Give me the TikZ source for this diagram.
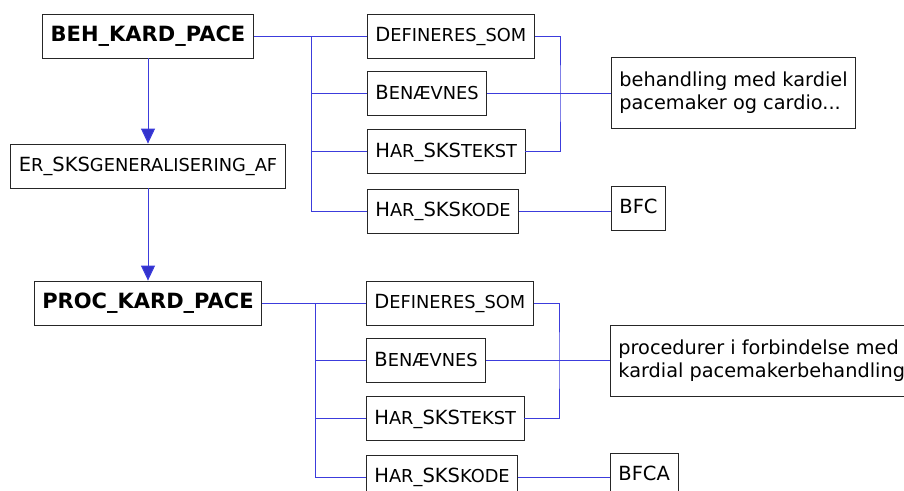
\documentclass[tikz,border=0pt]{standalone}
\usepackage{fontspec}
\setmainfont{DejaVu Sans}
\usetikzlibrary{
    positioning,
    arrows.meta
}

\definecolor{linkblue}{RGB}{60,60,220}
\definecolor{headblue}{RGB}{51,51,204}

\newcommand{\smc}[1]{{\fontsize{17.8}{20}\selectfont #1}}

\begin{document}
\begin{tikzpicture}[
    x=1pt, y=-1pt,
    every node/.style={font=\fontsize{19.5}{23}\selectfont},
    box/.style={rectangle, draw=black!85, line width=0.8pt, inner xsep=8pt, minimum height=44pt, text height=15pt, text depth=4pt},
    concept/.style={box, font=\fontsize{21}{25}\selectfont\bfseries},
    relation/.style={box},
    value/.style={rectangle, draw=black!85, line width=0.8pt, align=left, inner xsep=8pt, minimum height=71pt, font=\fontsize{19.3}{23.5}\selectfont},
    link/.style={draw=linkblue, line width=1pt},
    arrow/.style={link, -{Triangle[width=14pt, length=15pt, fill=headblue]}}
]
\useasboundingbox (0,0) rectangle (904,490);
\clip (0,0) rectangle (904,490);

% ================= CONCEPTS =================
\node[concept] (beh) at (148,36) {BEH\_KARD\_PACE};
\node[relation] (er) at (148,166) {E\smc{R\_}SKS\smc{GENERALISERING\_AF}};
\node[concept] (proc) at (148,303) {PROC\_KARD\_PACE};

% ================= RELATIONS (BEH) =================
\node[relation, anchor=west] (def1) at (367,36) {D\smc{EFINERES\_SOM}};
\node[relation, below=13pt of def1.south west, anchor=north west] (ben1) {B\smc{ENÆVNES}};
\node[relation, below=13pt of ben1.south west, anchor=north west] (tek1) {H\smc{AR\_}SKS\smc{TEKST}};
\node[relation, below=15pt of tek1.south west, anchor=north west] (kod1) {H\smc{AR\_}SKS\smc{KODE}};

\node[value, anchor=west] (txt1) at (611,92.5) {behandling med kardiel\\pacemaker og cardio...};
\node[box, anchor=west] (bfc) at (611,208) {BFC};

% ================= RELATIONS (PROC) =================
\node[relation, anchor=west] (def2) at (366,303) {D\smc{EFINERES\_SOM}};
\node[relation, below=13pt of def2.south west, anchor=north west] (ben2) {B\smc{ENÆVNES}};
\node[relation, below=13pt of ben2.south west, anchor=north west] (tek2) {H\smc{AR\_}SKS\smc{TEKST}};
\node[relation, below=14pt of tek2.south west, anchor=north west] (kod2) {H\smc{AR\_}SKS\smc{KODE}};

\node[value, anchor=west] (txt2) at (610,360.5) {procedurer i forbindelse med\\kardial pacemakerbehandling};
\node[box, anchor=west] (bfca) at (610,475) {BFCA};

% ================= ARROWS =================
\draw[arrow] (beh) -- (er);
\draw[arrow] (er) -- (proc);

% bus lines on the left
\coordinate (b1) at (311,36);
\coordinate (b2) at (315,303);
\draw[link] (beh.east) -- (def1.west);
\draw[link] (b1) |- (ben1.west);
\draw[link] (b1) |- (tek1.west);
\draw[link] (b1) |- (kod1.west);

\draw[link] (proc.east) -- (def2.west);
\draw[link] (b2) |- (ben2.west);
\draw[link] (b2) |- (tek2.west);
\draw[link] (b2) |- (kod2.west);

% bus lines on the right
\coordinate (r1) at (560,93);
\coordinate (r2) at (559,360);
\draw[link] (def1.east) -| (r1) |- (tek1.east);
\draw[link] (ben1.east) -- (ben1.east -| txt1.west);
\draw[link] (kod1.east) -- (kod1.east -| bfc.west);

\draw[link] (def2.east) -| (r2) |- (tek2.east);
\draw[link] (ben2.east) -- (ben2.east -| txt2.west);
\draw[link] (kod2.east) -- (kod2.east -| bfca.west);

\end{tikzpicture}
\end{document}
